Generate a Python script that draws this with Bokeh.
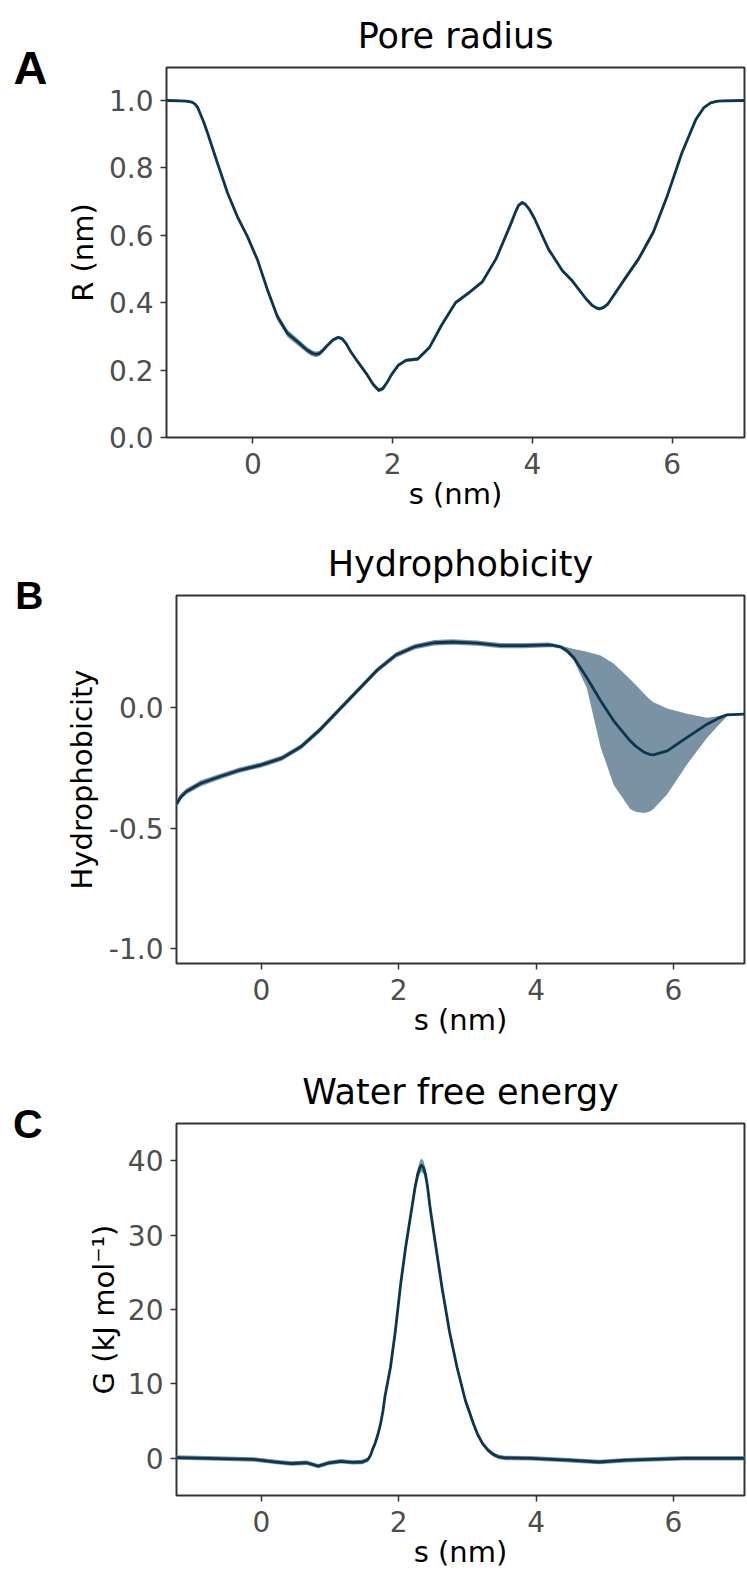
from bokeh.plotting import figure
from bokeh.models import Range1d, FixedTicker, LinearAxis
from bokeh.embed import file_html
from bokeh.resources import INLINE

# ---------------- data ----------------
# Panel A: pore radius
s_A = [-1.235, -1.05, -0.95, -0.87, -0.83, -0.79, -0.75, -0.70, -0.65, -0.505,
       -0.36, -0.22, -0.076, 0.067, 0.21, 0.353, 0.496, 0.64, 0.78, 0.85,
       0.90, 0.95, 1.00, 1.07, 1.15, 1.22, 1.28, 1.34, 1.40, 1.50,
       1.64, 1.72, 1.80, 1.86, 1.92, 1.98, 2.08, 2.19, 2.36, 2.53,
       2.70, 2.90, 3.10, 3.28, 3.48, 3.68, 3.75, 3.80, 3.85, 3.90,
       3.96, 4.03, 4.23, 4.43, 4.57, 4.77, 4.85, 4.92, 4.96, 5.01,
       5.08, 5.32, 5.52, 5.73, 5.93, 6.14, 6.34, 6.45, 6.55, 6.65,
       6.75, 7.035]
R_A = [1.0, 0.999, 0.998, 0.995, 0.99, 0.98, 0.96, 0.935, 0.905, 0.814,
       0.725, 0.655, 0.596, 0.527, 0.438, 0.358, 0.309, 0.284, 0.259, 0.250,
       0.247, 0.249, 0.258, 0.274, 0.290, 0.297, 0.293, 0.277, 0.255, 0.225,
       0.185, 0.158, 0.14, 0.145, 0.163, 0.185, 0.214, 0.229, 0.233, 0.268,
       0.333, 0.40, 0.431, 0.461, 0.53, 0.628, 0.665, 0.688, 0.697, 0.692,
       0.676, 0.650, 0.559, 0.495, 0.465, 0.411, 0.393, 0.384, 0.382, 0.385,
       0.396, 0.47, 0.53, 0.609, 0.717, 0.845, 0.944, 0.978, 0.993, 0.998,
       0.999, 1.0]
R_A_err = [0.003, 0.003, 0.003, 0.003, 0.003, 0.004, 0.004, 0.004, 0.004, 0.004,
           0.005, 0.005, 0.006, 0.007, 0.009, 0.011, 0.011, 0.010, 0.009, 0.009,
           0.008, 0.008, 0.007, 0.006, 0.005, 0.005, 0.005, 0.005, 0.005, 0.005,
           0.005, 0.006, 0.006, 0.006, 0.005, 0.005, 0.005, 0.005, 0.005, 0.005,
           0.005, 0.005, 0.005, 0.005, 0.005, 0.005, 0.005, 0.005, 0.005, 0.005,
           0.005, 0.005, 0.005, 0.005, 0.005, 0.005, 0.005, 0.005, 0.005, 0.005,
           0.005, 0.006, 0.008, 0.009, 0.007, 0.005, 0.004, 0.003, 0.003, 0.003,
           0.003, 0.003]

# Panel B: hydrophobicity
s_B = [-1.235, -1.17, -1.09, -0.88, -0.60, -0.33, 0.0, 0.30, 0.58, 0.85, 1.13,
       1.41, 1.69, 1.96, 2.24, 2.52, 2.79, 3.14, 3.49, 3.83, 4.18,
       4.25, 4.36, 4.45, 4.55, 4.74, 4.94, 5.13, 5.37, 5.45, 5.57,
       5.65, 5.71, 5.91, 6.20, 6.49, 6.65, 6.78, 7.035]
H_B = [-0.40, -0.37, -0.348, -0.314, -0.286, -0.261, -0.238, -0.21, -0.162, -0.093, -0.01,
       0.073, 0.156, 0.218, 0.253, 0.269, 0.272, 0.267, 0.257, 0.257, 0.26,
       0.258, 0.252, 0.236, 0.207, 0.124, 0.028, -0.055, -0.138, -0.160, -0.185,
       -0.194, -0.196, -0.18, -0.124, -0.069, -0.045, -0.030, -0.027]
H_B_hi = [-0.385, -0.357, -0.336, -0.302, -0.275, -0.250, -0.227, -0.199, -0.151, -0.082, 0.001,
          0.084, 0.167, 0.229, 0.264, 0.280, 0.283, 0.278, 0.268, 0.268, 0.270,
          0.266, 0.258, 0.250, 0.243, 0.232, 0.216, 0.183, 0.118, 0.095, 0.058,
          0.036, 0.022, -0.004, -0.026, -0.042, -0.036, -0.026, -0.024]
H_B_lo = [-0.415, -0.383, -0.360, -0.326, -0.297, -0.272, -0.249, -0.221, -0.173, -0.104, -0.021,
          0.062, 0.145, 0.207, 0.242, 0.258, 0.261, 0.256, 0.246, 0.246, 0.250,
          0.250, 0.244, 0.226, 0.195, 0.080, -0.165, -0.320, -0.421, -0.432, -0.437,
          -0.432, -0.421, -0.360, -0.235, -0.125, -0.075, -0.036, -0.030]

# Panel C: water free energy
s_C = [-1.235, -0.78, -0.11, 0.22, 0.44, 0.66, 0.83, 0.99, 1.16, 1.33,
       1.47, 1.55, 1.59, 1.62, 1.66, 1.70, 1.735, 1.77, 1.80, 1.88,
       1.95, 2.03, 2.10, 2.17, 2.24, 2.28, 2.31, 2.33, 2.36, 2.39,
       2.42, 2.46, 2.54, 2.63, 2.74, 2.85, 2.97, 3.09, 3.15, 3.22,
       3.30, 3.38, 3.45, 3.55, 3.93, 4.48, 4.92, 5.31, 6.14, 7.035]
G_C = [0.1, 0.0, -0.15, -0.5, -0.7, -0.6, -1.05, -0.6, -0.4, -0.55,
       -0.5, -0.2, 0.4, 1.2, 2.1, 3.3, 4.6, 6.3, 8.3, 12.2,
       17.0, 23.5, 28.3, 32.4, 36.5, 38.3, 39.1, 39.4, 39.1, 38.2,
       36.5, 33.5, 28.5, 23.0, 17.0, 12.2, 7.8, 4.6, 3.2, 2.0,
       1.1, 0.5, 0.2, 0.05, 0.0, -0.25, -0.5, -0.25, 0.0, 0.0]
G_C_err = [0.3, 0.3, 0.3, 0.3, 0.3, 0.3, 0.3, 0.3, 0.3, 0.3,
           0.3, 0.3, 0.3, 0.4, 0.4, 0.4, 0.4, 0.5, 0.5, 0.5,
           0.5, 0.6, 0.6, 0.6, 0.7, 0.8, 0.9, 0.9, 0.9, 0.8,
           0.7, 0.6, 0.6, 0.5, 0.5, 0.5, 0.4, 0.4, 0.3, 0.3,
           0.3, 0.3, 0.3, 0.3, 0.3, 0.3, 0.3, 0.3, 0.3, 0.3]

x_ticks = [0, 2, 4, 6]
A_yticks = [0.0, 0.2, 0.4, 0.6, 0.8, 1.0]
A_ylabels = ["0.0", "0.2", "0.4", "0.6", "0.8", "1.0"]
B_yticks = [-1.0, -0.5, 0.0]
B_ylabels = ["-1.0", "-0.5", "0.0"]
C_yticks = [0, 10, 20, 30, 40]
C_ylabels = ["0", "10", "20", "30", "40"]

# ---------------- style ----------------
FONT = "DejaVu Sans"
LINE = "#0c3650"
BAND = "#7a93a4"
XR = (-1.235, 7.035)


def make(title, letter, ylabel, yr, yticks, ylabels, height, top, bottom, left,
         ylab_standoff, letter_standoff, letter_size):
    p = figure(width=747, height=height, x_range=Range1d(*XR), y_range=Range1d(*yr),
               output_backend="svg", toolbar_location=None,
               min_border_left=left, min_border_right=3,
               min_border_top=top, min_border_bottom=bottom)
    p.title.text = title
    p.title.align = "center"
    p.title.text_font = FONT
    p.title.text_font_size = "35px"
    p.title.text_font_style = "normal"
    p.title.text_color = "black"
    p.title.standoff = 23
    p.grid.visible = False
    p.outline_line_color = "#333333"
    p.outline_line_width = 2
    for ax in (p.xaxis[0], p.yaxis[0]):
        ax.axis_line_color = None
        ax.major_tick_line_color = "#333333"
        ax.major_tick_line_width = 1.5
        ax.major_tick_out = 6
        ax.major_tick_in = 0
        ax.minor_tick_line_color = None
        ax.major_label_text_font = FONT
        ax.major_label_text_font_size = "28px"
        ax.major_label_text_color = "#4d4d4d"
        ax.axis_label_text_font = FONT
        ax.axis_label_text_font_size = "29px"
        ax.axis_label_text_font_style = "normal"
        ax.axis_label_text_color = "black"
    p.xaxis.ticker = FixedTicker(ticks=x_ticks)
    p.xaxis.axis_label = "s (nm)"
    p.xaxis.major_label_standoff = 9
    p.xaxis.axis_label_standoff = 0
    p.yaxis.ticker = FixedTicker(ticks=yticks)
    p.yaxis.major_label_overrides = {t: l for t, l in zip(yticks, ylabels)}
    p.yaxis.axis_label = ylabel
    p.yaxis.major_label_standoff = 7
    p.yaxis.axis_label_standoff = ylab_standoff

    # panel letter, drawn as the single label of an outer left axis at the frame top
    top_val = yr[1] - (yr[1] - yr[0]) * 0.0005
    lax = LinearAxis(ticker=FixedTicker(ticks=[top_val]),
                     major_label_overrides={top_val: letter})
    lax.axis_line_color = None
    lax.major_tick_line_color = None
    lax.minor_tick_line_color = None
    lax.major_label_text_font = "Liberation Sans"
    lax.major_label_text_font_style = "bold"
    lax.major_label_text_font_size = letter_size
    lax.major_label_text_color = "black"
    lax.major_label_standoff = letter_standoff
    p.add_layout(lax, "left")
    return p


pA = make("Pore radius", "A", "R (nm)", (0.0, 1.098), A_yticks, A_ylabels,
          520, 67, 83, 166, 6, 9, "47px")
pA.varea(x=s_A, y1=[r - e for r, e in zip(R_A, R_A_err)],
         y2=[r + e for r, e in zip(R_A, R_A_err)], fill_color=BAND)
pA.line(s_A, R_A, line_color=LINE, line_width=2.8, line_join="round")

pB = make("Hydrophobicity", "B", "Hydrophobicity", (-1.062, 0.465), B_yticks, B_ylabels,
          530, 75, 87, 176, 7, 12, "39px")
pB.varea(x=s_B, y1=H_B_lo, y2=H_B_hi, fill_color=BAND)
pB.line(s_B, H_B, line_color=LINE, line_width=2.8, line_join="round")

pC = make("Water free energy", "C", "G (kJ mol\u207b\u00b9)", (-5.0, 45.0), C_yticks, C_ylabels,
          525, 73, 80, 176, 4, 35, "41px")
pC.varea(x=s_C, y1=[g - e for g, e in zip(G_C, G_C_err)],
         y2=[g + e for g, e in zip(G_C, G_C_err)], fill_color=BAND)
pC.line(s_C, G_C, line_color=LINE, line_width=2.8, line_join="round")

open("out.html", "w").write(file_html([pA, pB, pC], INLINE))
